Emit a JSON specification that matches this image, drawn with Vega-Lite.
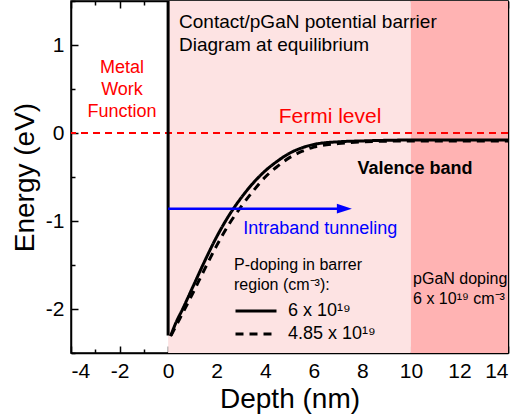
{
  "$schema": "https://vega.github.io/schema/vega-lite/v6.json",
  "width": 437,
  "height": 352,
  "autosize": {"type": "none"},
  "padding": {"left": 71, "top": 1, "right": 12, "bottom": 66},
  "config": {
    "font": "Liberation Sans",
    "view": {"stroke": "black", "strokeWidth": 1.5},
    "axis": {"zindex": 1, "grid": false, "domainColor": "black", "domainWidth": 1.5, "tickColor": "black", "tickWidth": 1.5, "labelColor": "black", "titleColor": "black", "labelFont": "Liberation Sans", "titleFont": "Liberation Sans", "titleFontWeight": "normal"}
  },
  "datasets": {
    "bg": [{"x1": 0, "x2": 10, "region": "barrier"}, {"x1": 10, "x2": 14, "region": "pGaN"}],
    "fermi": [{"y": 0}],
    "wall": [{"x": 0, "ytop": 1.5, "ybot": -2.3}],
    "curves": [
      {"series": "6 x 10¹⁹", "x": 0.1, "y": -2.31},
      {"series": "6 x 10¹⁹", "x": 0.3, "y": -2.17},
      {"series": "6 x 10¹⁹", "x": 0.6, "y": -2.0},
      {"series": "6 x 10¹⁹", "x": 1.0, "y": -1.76},
      {"series": "6 x 10¹⁹", "x": 1.5, "y": -1.46},
      {"series": "6 x 10¹⁹", "x": 2.0, "y": -1.18},
      {"series": "6 x 10¹⁹", "x": 2.5, "y": -0.94},
      {"series": "6 x 10¹⁹", "x": 3.0, "y": -0.74},
      {"series": "6 x 10¹⁹", "x": 3.5, "y": -0.57},
      {"series": "6 x 10¹⁹", "x": 4.0, "y": -0.43},
      {"series": "6 x 10¹⁹", "x": 4.5, "y": -0.32},
      {"series": "6 x 10¹⁹", "x": 5.0, "y": -0.23},
      {"series": "6 x 10¹⁹", "x": 5.5, "y": -0.17},
      {"series": "6 x 10¹⁹", "x": 6.0, "y": -0.13},
      {"series": "6 x 10¹⁹", "x": 7.0, "y": -0.1},
      {"series": "6 x 10¹⁹", "x": 8.0, "y": -0.09},
      {"series": "6 x 10¹⁹", "x": 10.0, "y": -0.08},
      {"series": "6 x 10¹⁹", "x": 14.0, "y": -0.08},
      {"series": "4.85 x 10¹⁹", "x": 0.12, "y": -2.3},
      {"series": "4.85 x 10¹⁹", "x": 0.5, "y": -2.1},
      {"series": "4.85 x 10¹⁹", "x": 1.0, "y": -1.83},
      {"series": "4.85 x 10¹⁹", "x": 1.5, "y": -1.55},
      {"series": "4.85 x 10¹⁹", "x": 2.0, "y": -1.28},
      {"series": "4.85 x 10¹⁹", "x": 2.5, "y": -1.04},
      {"series": "4.85 x 10¹⁹", "x": 3.0, "y": -0.84},
      {"series": "4.85 x 10¹⁹", "x": 3.5, "y": -0.66},
      {"series": "4.85 x 10¹⁹", "x": 4.0, "y": -0.5},
      {"series": "4.85 x 10¹⁹", "x": 4.5, "y": -0.38},
      {"series": "4.85 x 10¹⁹", "x": 5.0, "y": -0.28},
      {"series": "4.85 x 10¹⁹", "x": 5.5, "y": -0.21},
      {"series": "4.85 x 10¹⁹", "x": 6.0, "y": -0.16},
      {"series": "4.85 x 10¹⁹", "x": 7.0, "y": -0.12},
      {"series": "4.85 x 10¹⁹", "x": 8.0, "y": -0.1},
      {"series": "4.85 x 10¹⁹", "x": 10.0, "y": -0.09},
      {"series": "4.85 x 10¹⁹", "x": 14.0, "y": -0.09}
    ],
    "arrow": [{"x": 0, "y": -0.86}, {"x": 7.2, "y": -0.86}],
    "head": [{"x": 7.26, "y": -0.86}],
    "blackText": [
      {"x": 0.45, "y": 1.26, "t": "Contact/pGaN potential barrier"},
      {"x": 0.45, "y": 1.0, "t": "Diagram at equilibrium"}
    ],
    "smallText": [
      {"x": 10.09, "y": -1.66, "t": "pGaN doping"},
      {"x": 10.09, "y": -1.89, "t": "6 x 10¹⁹ cm⁻³"}
    ],
    "metal": [
      {"x": -1.9, "y": 0.74, "t": "Metal"},
      {"x": -1.9, "y": 0.49, "t": "Work"},
      {"x": -1.9, "y": 0.24, "t": "Function"}
    ],
    "fermiText": [{"x": 6.67, "y": 0.18, "t": "Fermi level"}],
    "valence": [{"x": 10.17, "y": -0.41, "t": "Valence band"}],
    "tunnel": [{"x": 3.09, "y": -1.09, "t": "Intraband tunneling"}]
  },
  "layer": [
    {
      "data": {"name": "bg"},
      "mark": {"type": "rect"},
      "encoding": {
        "x": {"field": "x1", "type": "quantitative", "scale": {"domain": [-4, 14], "nice": false},
          "axis": {"orient": "bottom", "values": [-4, -2, 0, 2, 4, 6, 8, 10, 12, 14], "ticks": false, "domain": true, "labelFontSize": 21, "labelPadding": 7, "labelExpr": "'' + datum.value", "title": "Depth (nm)", "titleFontSize": 28, "titlePadding": 4}},
        "x2": {"field": "x2"},
        "color": {"field": "region", "type": "nominal", "scale": {"domain": ["barrier", "pGaN"], "range": ["#fde3e3", "#ffb3b3"]}, "legend": null}
      }
    },
    {
      "data": {"name": "fermi"},
      "mark": {"type": "rule", "color": "#ff0000", "strokeDash": [7, 5], "strokeWidth": 2},
      "encoding": {
        "y": {"field": "y", "type": "quantitative", "scale": {"domain": [-2.5, 1.5], "nice": false},
          "axis": {"orient": "left", "values": [-2, -1, 0, 1], "ticks": false, "domain": true, "labelFontSize": 21, "labelPadding": 7, "labelExpr": "'' + datum.value", "title": "Energy (eV)", "titleFontSize": 28, "titlePadding": 6}}
      }
    },
    {
      "data": {"name": "wall"},
      "mark": {"type": "rule", "color": "black", "strokeWidth": 3},
      "encoding": {
        "x": {"field": "x", "type": "quantitative", "scale": {"domain": [-4, 14], "nice": false},
          "axis": {"orient": "bottom", "values": [-4, -2, 0, 2, 4, 6, 8, 10, 12, 14], "labels": false, "tickSize": -7, "domain": false, "title": null}},
        "y": {"field": "ytop", "type": "quantitative", "scale": {"domain": [-2.5, 1.5], "nice": false},
          "axis": {"orient": "left", "values": [-2, -1, 0, 1], "labels": false, "tickSize": -7, "domain": false, "title": null}},
        "y2": {"field": "ybot"}
      }
    },
    {
      "data": {"name": "curves"},
      "mark": {"type": "line", "color": "black", "strokeWidth": 3, "interpolate": "monotone", "clip": true},
      "encoding": {
        "x": {"field": "x", "type": "quantitative", "scale": {"domain": [-4, 14], "nice": false},
          "axis": {"orient": "bottom", "values": [-3, -1, 1, 3, 5, 7, 9, 11, 13], "labels": false, "tickSize": -4, "domain": false, "title": null}},
        "y": {"field": "y", "type": "quantitative", "scale": {"domain": [-2.5, 1.5], "nice": false},
          "axis": {"orient": "left", "values": [-2.5, -1.5, -0.5, 0.5, 1.5], "labels": false, "tickSize": -4, "domain": false, "title": null}},
        "strokeDash": {"field": "series", "type": "nominal",
          "scale": {"domain": ["6 x 10¹⁹", "4.85 x 10¹⁹"], "range": [[1, 0], [8, 6]]},
          "legend": {"orient": "none", "legendX": 163, "legendY": 256, "title": ["P-doping in barrer", "region (cm⁻³):"], "titleFontSize": 16, "titleFontWeight": "normal", "titleColor": "black", "titleLineHeight": 20, "titlePadding": 8, "labelFontSize": 18, "labelColor": "black", "labelOffset": 10, "symbolType": "stroke", "symbolSize": 1681, "symbolStrokeWidth": 3, "symbolStrokeColor": "black", "clipHeight": 20, "rowPadding": 3}}
      }
    },
    {
      "data": {"name": "arrow"},
      "mark": {"type": "line", "color": "#0000ff", "strokeWidth": 2.5},
      "encoding": {
        "x": {"field": "x", "type": "quantitative", "scale": {"domain": [-4, 14], "nice": false},
          "axis": {"orient": "top", "values": [-4, -2, 0, 2, 4, 6, 8, 10, 12, 14], "labels": false, "tickSize": -7, "domain": true, "title": null}},
        "y": {"field": "y", "type": "quantitative", "scale": {"domain": [-2.5, 1.5], "nice": false},
          "axis": {"orient": "right", "values": [-2, -1, 0, 1], "labels": false, "tickSize": -7, "domain": true, "title": null}}
      }
    },
    {
      "data": {"name": "head"},
      "mark": {"type": "point", "shape": "M-1,-0.65L1,0L-1,0.65Z", "filled": true, "color": "#0000ff", "opacity": 1, "size": 225},
      "encoding": {
        "x": {"field": "x", "type": "quantitative", "scale": {"domain": [-4, 14], "nice": false},
          "axis": {"orient": "top", "values": [-3, -1, 1, 3, 5, 7, 9, 11, 13], "labels": false, "tickSize": -4, "domain": false, "title": null}},
        "y": {"field": "y", "type": "quantitative", "scale": {"domain": [-2.5, 1.5], "nice": false},
          "axis": {"orient": "right", "values": [-1.5, -0.5, 0.5], "labels": false, "tickSize": -4, "domain": false, "title": null}}
      }
    },
    {
      "data": {"name": "blackText"},
      "mark": {"type": "text", "align": "left", "baseline": "middle", "fontSize": 19, "color": "black"},
      "encoding": {
        "x": {"field": "x", "type": "quantitative", "scale": {"domain": [-4, 14], "nice": false}, "axis": null},
        "y": {"field": "y", "type": "quantitative", "scale": {"domain": [-2.5, 1.5], "nice": false}, "axis": null},
        "text": {"field": "t"}
      }
    },
    {
      "data": {"name": "smallText"},
      "mark": {"type": "text", "align": "left", "baseline": "middle", "fontSize": 16, "color": "black"},
      "encoding": {
        "x": {"field": "x", "type": "quantitative", "scale": {"domain": [-4, 14], "nice": false}, "axis": null},
        "y": {"field": "y", "type": "quantitative", "scale": {"domain": [-2.5, 1.5], "nice": false}, "axis": null},
        "text": {"field": "t"}
      }
    },
    {
      "data": {"name": "metal"},
      "mark": {"type": "text", "align": "center", "baseline": "middle", "fontSize": 18, "color": "#ff0000"},
      "encoding": {
        "x": {"field": "x", "type": "quantitative", "scale": {"domain": [-4, 14], "nice": false}, "axis": null},
        "y": {"field": "y", "type": "quantitative", "scale": {"domain": [-2.5, 1.5], "nice": false}, "axis": null},
        "text": {"field": "t"}
      }
    },
    {
      "data": {"name": "fermiText"},
      "mark": {"type": "text", "align": "center", "baseline": "middle", "fontSize": 21, "color": "#ff0000"},
      "encoding": {
        "x": {"field": "x", "type": "quantitative", "scale": {"domain": [-4, 14], "nice": false}, "axis": null},
        "y": {"field": "y", "type": "quantitative", "scale": {"domain": [-2.5, 1.5], "nice": false}, "axis": null},
        "text": {"field": "t"}
      }
    },
    {
      "data": {"name": "valence"},
      "mark": {"type": "text", "align": "center", "baseline": "middle", "fontSize": 18, "fontWeight": "bold", "color": "black"},
      "encoding": {
        "x": {"field": "x", "type": "quantitative", "scale": {"domain": [-4, 14], "nice": false}, "axis": null},
        "y": {"field": "y", "type": "quantitative", "scale": {"domain": [-2.5, 1.5], "nice": false}, "axis": null},
        "text": {"field": "t"}
      }
    },
    {
      "data": {"name": "tunnel"},
      "mark": {"type": "text", "align": "left", "baseline": "middle", "fontSize": 18, "color": "#0000ff"},
      "encoding": {
        "x": {"field": "x", "type": "quantitative", "scale": {"domain": [-4, 14], "nice": false}, "axis": null},
        "y": {"field": "y", "type": "quantitative", "scale": {"domain": [-2.5, 1.5], "nice": false}, "axis": null},
        "text": {"field": "t"}
      }
    }
  ],
  "resolve": {"axis": {"x": "independent", "y": "independent"}}
}
